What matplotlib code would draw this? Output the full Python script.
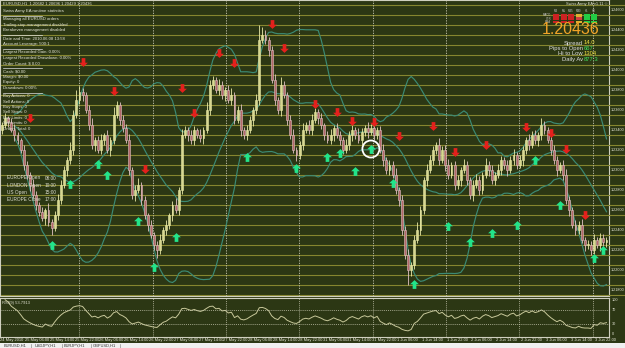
import numpy as np
import pandas as pd
import matplotlib
matplotlib.use('Agg')
import matplotlib.pyplot as plt
from matplotlib.path import Path
from matplotlib.patches import Rectangle
from matplotlib.transforms import blended_transform_factory

# ---------------- data (EURUSD H1, pips above 1.2100) ----------------
base_price = 1.2100
close_pips = [
    245, 252, 248, 240, 235, 230, 220, 205, 195, 185,
    175, 165, 158, 152, 160, 148, 142, 155, 170, 185,
    200, 210, 220, 255, 270, 278, 275, 260, 245, 225,
    230, 220, 230, 235, 220, 230, 255, 265, 250, 242,
    230, 200, 175, 180, 185, 170, 155, 145, 135, 125,
    120, 130, 140, 145, 155, 165, 160, 180, 235, 240,
    235, 230, 240, 235, 232, 240, 260, 285, 290, 280,
    285, 275, 280, 270, 275, 250, 260, 240, 235, 240,
    250, 260, 270, 330, 335, 330, 320, 290, 270, 260,
    285, 275, 250, 235, 220, 215, 225, 240, 245, 240,
    250, 258, 252, 245, 235, 230, 235, 242, 235, 230,
    220, 225, 235, 240, 235, 230, 238, 242, 238, 242,
    235, 240, 220, 210, 200, 205, 195, 180, 170, 140,
    115, 100, 105, 130, 140, 160, 190, 200, 210, 220,
    225, 210, 220, 205, 195, 205, 185, 190, 200, 205,
    190, 175, 185, 190, 180, 195, 205, 200, 190, 195,
    200, 210, 205, 200, 210, 215, 205, 210, 220, 230,
    225, 235, 230, 235, 245, 240, 230, 220, 210, 200,
    205, 195, 170, 160, 145, 140, 145, 130, 125, 125,
    120, 130, 125, 132, 128, 130]
first_open_pips = 240
wick_up = [
    3, 5, 2, 4, 6, 3, 2, 5, 4, 3, 6, 4, 3, 5, 2, 7, 3, 4, 6, 5,
    4, 3, 8, 5, 10, 6, 4, 3, 5, 7, 3, 4, 6, 2, 5, 3, 8, 4, 3, 5,
    4, 6, 3, 5, 7, 3, 4, 2, 5, 3, 4, 6, 3, 5, 2, 4, 7, 3, 6, 4,
    3, 5, 4, 2, 6, 3, 8, 5, 4, 3, 6, 4, 3, 5, 7, 3, 4, 6, 3, 5,
    4, 3, 6, 15, 8, 5, 3, 4, 6, 3, 8, 4, 3, 5, 6, 3, 4, 7, 3, 5,
    6, 4, 3, 5, 2, 4, 6, 3, 5, 4, 3, 6, 4, 5, 3, 7, 4, 3, 6, 4,
    5, 3, 4, 6, 3, 5, 4, 7, 3, 5, 4, 6, 3, 5, 8, 4, 3, 6, 5, 4,
    3, 7, 4, 5, 6, 3, 4, 5, 3, 6, 4, 3, 5, 6, 4, 3, 7, 4, 5, 3,
    6, 4, 3, 5, 4, 6, 3, 5, 4, 3, 6, 4, 5, 3, 7, 4, 3, 6, 5, 4,
    3, 5, 6, 4, 3, 5, 4, 6, 3, 5, 4, 6, 3, 5, 4, 3]
wick_dn = [
    4, 3, 5, 2, 6, 4, 3, 5, 4, 6, 3, 5, 4, 3, 7, 4, 7, 3, 5, 4,
    3, 6, 4, 5, 3, 4, 6, 3, 5, 4, 6, 3, 4, 5, 3, 6, 4, 3, 5, 4,
    3, 5, 4, 6, 3, 5, 4, 6, 3, 5, 8, 4, 3, 5, 4, 6, 3, 5, 4, 3,
    6, 4, 5, 3, 4, 6, 3, 5, 4, 3, 5, 4, 6, 3, 5, 4, 3, 6, 4, 5,
    3, 6, 4, 5, 3, 4, 6, 3, 5, 4, 6, 3, 5, 4, 3, 6, 4, 5, 3, 4,
    5, 3, 6, 4, 5, 3, 4, 6, 3, 5, 4, 3, 5, 6, 4, 3, 5, 4, 6, 3,
    5, 4, 3, 6, 4, 5, 3, 4, 6, 5, 4, 15, 6, 4, 3, 5, 4, 6, 3, 5,
    4, 5, 3, 6, 4, 3, 5, 4, 6, 3, 5, 4, 6, 3, 5, 4, 3, 6, 4, 5,
    3, 5, 4, 6, 3, 5, 4, 3, 6, 4, 5, 3, 4, 6, 5, 4, 3, 5, 4, 6,
    3, 5, 4, 6, 3, 5, 4, 3, 6, 4, 5, 4, 3, 6, 4, 5]

# signal arrows: (bar index, pips)
buy_bars = [16, 22, 31, 34, 44, 49, 56, 79, 95, 105, 109, 114, 119, 126,
            133, 144, 151, 158, 166, 172, 180, 191, 194]
buy_pips = [125, 186, 206, 195, 149, 103, 133, 213, 202, 213, 217, 199, 221, 187,
            86, 144, 128, 137, 145, 210, 165, 112, 120]
sell_bars = [9, 26, 36, 46, 58, 62, 70, 75, 87, 91, 101, 108, 113, 120,
             128, 139, 146, 156, 169, 177, 182, 188]
sell_pips = [252, 308, 279, 201, 282, 257, 317, 307, 346, 322, 266, 258, 249, 248,
             234, 244, 218, 225, 243, 237, 221, 155]
circled_bar, circled_pips = 119, 221

xlabels = ['24 May 2010', '25 May 06:00', '25 May 14:00', '25 May 22:00',
           '26 May 06:00', '26 May 14:00', '26 May 22:00', '27 May 06:00',
           '27 May 14:00', '27 May 22:00', '28 May 06:00', '28 May 14:00',
           '28 May 22:00', '31 May 06:00', '31 May 14:00', '31 May 22:00',
           '1 Jun 06:00', '1 Jun 14:00', '1 Jun 22:00', '2 Jun 06:00',
           '2 Jun 14:00', '2 Jun 22:00', '3 Jun 06:00', '3 Jun 14:00', '3 Jun 22:00']

stats_lines = ['Swiss Army EA runtime statistics', '',
               'Managing all EURUSD orders', 'Trailing stop management disabled',
               'Breakeven management disabled', '',
               'Date and Time: 2010.06.08 13:58', 'Account Leverage: 500:1', '',
               'Largest Recorded Gain: 0.00%', 'Largest Recorded Drawdown: 0.00%',
               'Order Count: $ 0.00', '', 'Cash: $0.00', 'Margin: $0.00',
               'Equity: 0', 'Drawdown: 0.00%', '',
               'Buy Actions: 0', 'Sell Actions: 0', 'Buy Stops: 0', 'Sell Stops: 0',
               'Buy Limits: 0', 'Sell Limits: 0', 'Orders Total: 0']
session_names = ['EUROPE Open', 'LONDON Open', 'US Open', 'EUROPE Close']
session_times = ['08:00', '10:00', '15:00', '17:00']
tabs = ['EURUSD,H1', 'USDJPY,H1', 'EURJPY,H1', 'GBPUSD,H1']

# ---------------- derived series ----------------
close = base_price + np.array(close_pips) / 10000.0
opens = np.concatenate([[base_price + first_open_pips / 10000.0], close[:-1]])
high = np.maximum(opens, close) + np.array(wick_up) / 10000.0
low = np.minimum(opens, close) - np.array(wick_dn) / 10000.0
idx = np.arange(len(close))

s = pd.Series(close)
mid = s.rolling(20, min_periods=5).mean()
sd = s.rolling(20, min_periods=5).std(ddof=0)
upper, lower = mid + 2 * sd, mid - 2 * sd

d = s.diff()
gain = d.clip(lower=0).ewm(alpha=1 / 9, adjust=False).mean()
loss = (-d.clip(upper=0)).ewm(alpha=1 / 9, adjust=False).mean()
rsi = 100 - 100 / (1 + gain / loss)

# ---------------- figure ----------------
W, H = 625, 348
BG = '#2c3714'
FONT = 'Liberation Sans'
fig = plt.figure(figsize=(W / 100, H / 100), dpi=100, facecolor=BG)


def pane(x0, y0, x1, y1):
    return fig.add_axes([x0 / W, 1 - y1 / H, (x1 - x0) / W, (y1 - y0) / H])


px = 3.1  # pixels per bar
xmin, xmax = -2 / px, (609 - 2) / px
levels = np.arange(base_price + 75 / 10000, base_price + 370 / 10000, 0.0010)

ax = pane(0, 0, 609, 296)
ax.set_facecolor(BG)
ax.set_xlim(xmin, xmax)
ax.set_ylim(base_price + 74 / 10000, base_price + 370 / 10000)
for lvl in levels:
    ax.axhline(lvl, color='#86862f', lw=0.8, zorder=1)
for g in range(8):
    ax.axvline(25 + g * 23.65, color='#c8c8b0', lw=0.6, ls=(0, (1.5, 1.5)), zorder=1)

bull = close >= opens
for i in idx:
    fc = '#d8d890' if bull[i] else '#b4686a'
    ec = '#eaeaa8' if bull[i] else '#e2c4c4'
    ax.vlines(i, low[i], high[i], color=ec, lw=0.6, zorder=3)
    b0, b1 = min(opens[i], close[i]), max(opens[i], close[i])
    ax.add_patch(Rectangle((i - 0.32, b0), 0.64, max(b1 - b0, 0.00008),
                           facecolor=fc, edgecolor=ec, lw=0.4, zorder=4))

for band in (upper, mid, lower):
    ax.plot(idx, band, color='#3c8a74', lw=0.85, zorder=2)

up_arrow = Path([(0, 1), (-1, 0.05), (-0.42, 0.05), (-0.42, -1), (0.42, -1),
                 (0.42, 0.05), (1, 0.05), (0, 1)], closed=True)
dn_arrow = Path([(0, -1), (-1, -0.05), (-0.42, -0.05), (-0.42, 1), (0.42, 1),
                 (0.42, -0.05), (1, -0.05), (0, -1)], closed=True)
ax.scatter(buy_bars, base_price + np.array(buy_pips) / 10000, marker=up_arrow,
           s=40, color='#22e48a', zorder=6, linewidths=0)
ax.scatter(sell_bars, base_price + np.array(sell_pips) / 10000, marker=dn_arrow,
           s=40, color='#e4201c', zorder=6, linewidths=0)
ax.scatter([circled_bar], [base_price + circled_pips / 10000], s=150,
           facecolors='none', edgecolors='white', linewidths=1.3, zorder=7)
for sp in ax.spines.values():
    sp.set_color('#d0d0c0')
    sp.set_linewidth(0.8)
ax.set_xticks([])
ax.set_yticks([])

# price scale on the right
pr = pane(609, 0, 625, 296)
pr.set_facecolor(BG)
pr.set_ylim(ax.get_ylim())
pr.set_xlim(0, 1)
for lvl in levels:
    pr.axhline(lvl, color='#86862f', lw=0.8)
for lvl in np.arange(base_price + 80 / 10000, base_price + 370 / 10000, 0.0020):
    pr.text(0.08, lvl, '%.5f' % lvl, color='#e8e8d8', fontsize=2.7, va='center',
            family=FONT)
pr.axis('off')

# RSI pane
rx = pane(0, 298, 609, 337)
rx.set_facecolor(BG)
rx.set_xlim(xmin, xmax)
rx.set_ylim(-8, 105)
rx.plot(idx, rsi, color='#c8c89a', lw=0.7)
for lv in (70, 30):
    rx.axhline(lv, color='#c8c8b0', lw=0.5, ls=(0, (1.5, 1.5)))
for g in range(8):
    rx.axvline(25 + g * 23.65, color='#c8c8b0', lw=0.5, ls=(0, (1.5, 1.5)))
for sp in rx.spines.values():
    sp.set_color('#d0d0c0')
    sp.set_linewidth(0.8)
rx.set_xticks([])
rx.set_yticks([])
rx.text(0.004, 0.93, 'RSI(9) 53.7913', transform=rx.transAxes, color='#e0e0d0',
        fontsize=3.0, va='top', family=FONT)
for lv in (100, 70, 30, 0):
    rx.text(1.004, lv, str(lv), transform=blended_transform_factory(rx.transAxes, rx.transData),
            color='#e0e0d0', fontsize=2.8, va='center', clip_on=False, family=FONT)

# overlay with pixel coordinates for texts and widgets
ov = fig.add_axes([0, 0, 1, 1])
ov.set_xlim(0, W)
ov.set_ylim(H, 0)
ov.axis('off')

tx = blended_transform_factory(rx.transData, ov.transData)
for k, lab in enumerate(xlabels):
    ov.text(8 * k - 0.6, 340, lab, transform=tx, color='#e8e8d8', fontsize=2.9,
            va='center', ha='left', family=FONT)

ov.add_patch(Rectangle((0, 343), W, 5, facecolor='#f0f0f0', edgecolor='none'))
tab_x = [2, 33, 62, 91]
for tx_, name in zip(tab_x, tabs):
    ov.text(tx_ + 2, 346, name, color='#303030', fontsize=2.9, va='center', family=FONT)
    ov.plot([tx_ + 29, tx_ + 29], [343.5, 348], color='#909090', lw=0.5)

ov.text(3, 4, 'EURUSD,H1  1.20682 1.20696 1.20429 1.20436', color='#e8e8d8',
        fontsize=3.0, va='center', family=FONT)
y = 11
for line in stats_lines:
    if line == '':
        ov.plot([3, 42], [y - 0.5, y - 0.5], color='#e0e0e0', lw=0.5)
        y += 3
        continue
    ov.text(3, y, line, color='#e8e8d8', fontsize=3.1, va='center', family=FONT)
    y += 5.4
for k, (nm, tm) in enumerate(zip(session_names, session_times)):
    ov.text(7, 178 + 7.3 * k, nm, color='#e0e0d0', fontsize=3.4, va='center', family=FONT)
    ov.text(45, 178 + 7.3 * k, tm, color='#e0e0d0', fontsize=3.4, va='center', family=FONT)

# top-right panel
ov.text(607, 4, 'Swiss Army EA v1.11 \u00a9', color='#e8e8d8', fontsize=2.9,
        va='center', ha='right', family=FONT)
led_cols = [['#cc2222', '#cc2222', '#cc2222'], ['#cc2222', '#cc2222', '#cc2222'],
            ['#cc2222', '#cc2222', '#cc2222'], ['#e0b030', '#d04040', '#e0b030'],
            ['#22cc44', '#22cc44', '#22cc44'], ['#22cc44', '#22cc44', '#22cc44']]
col_x = [553, 560.5, 568, 575.5, 583.5, 591]
for cx, cols in zip(col_x, led_cols):
    for r, c in enumerate(cols):
        ov.add_patch(Rectangle((cx, 14 + r * 3.3), 6.2, 2.6, facecolor=c, edgecolor='none'))
for cx, tf in zip(col_x, ['M1', 'M5', 'M15', 'M30', 'H1', 'H4']):
    ov.text(cx + 3, 11.5, tf, color='#c8c8c8', fontsize=2.0, ha='center', va='center',
            family=FONT)
for r, nm in enumerate(['MACD', 'STR', 'EMA']):
    ov.text(551, 15.3 + r * 3.3, nm, color='#c8c8c8', fontsize=2.0, ha='right', va='center',
            family=FONT)

ov.text(571, 30, '1.20436', color='#f2a428', fontsize=11.5, ha='center', va='center',
        family=FONT)
info = [('Spread', '14.0', '#f0e040'), ('Pips to Open', '667', '#40e060'),
        ('Hi to Low', '1304', '#f0e040'), ('Daily Av', '877.3', '#40e060')]
for k, (lab, val, col) in enumerate(info):
    yy = 43 + 5.4 * k
    ov.text(583, yy, lab, color='#e0e0e0', fontsize=4.2, ha='right', va='center',
            family=FONT)
    ov.text(584, yy, val, color=col, fontsize=4.2, ha='left', va='center',
            family=FONT)

fig.savefig('out.png', dpi=100, facecolor=BG)
